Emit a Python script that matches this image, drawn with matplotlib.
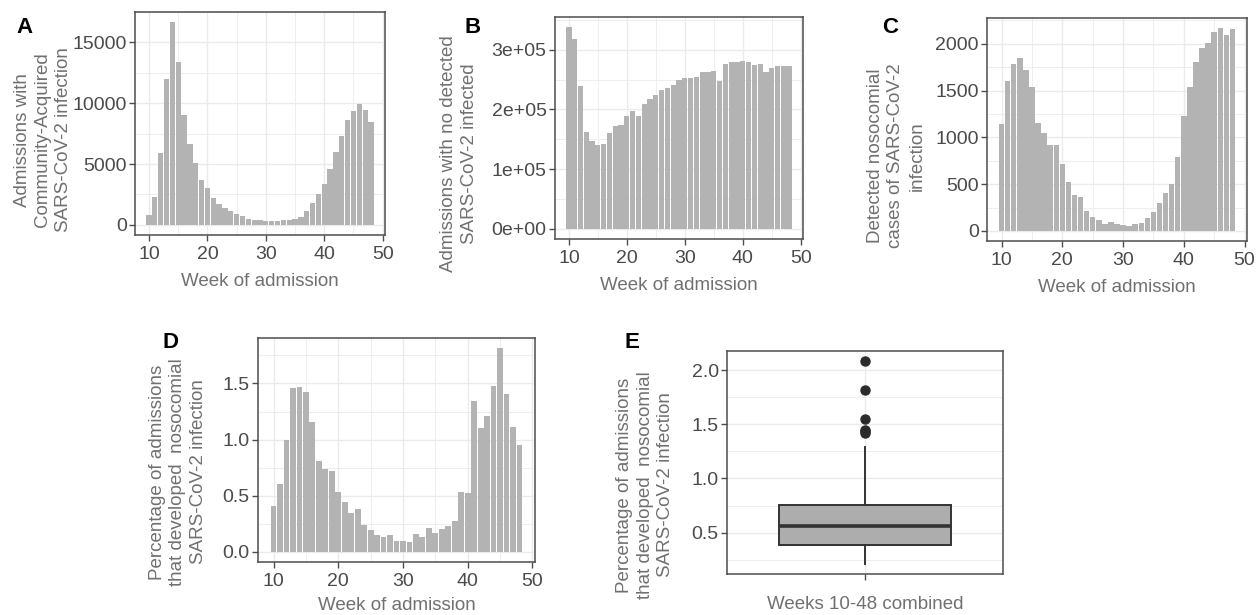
import numpy as np
import matplotlib
matplotlib.use("Agg")
import matplotlib.pyplot as plt
from matplotlib.ticker import MultipleLocator, FixedLocator, FuncFormatter

plt.rcParams['font.family'] = ['Liberation Sans', 'DejaVu Sans']

# ---------------- data ----------------
weeks = np.arange(10, 49)

community_acquired = [820, 2320, 5870, 12000, 16670, 13360, 9020, 6690, 5050, 3690,
                      3060, 2190, 1720, 1370, 1170, 900, 740, 520, 410, 390,
                      330, 300, 330, 380, 410, 460, 660, 1150, 1780, 2510,
                      3330, 4590, 5960, 7300, 8660, 9340, 9950, 9430, 8420]

no_detected = [3.38e5, 3.18e5, 2.39e5, 1.62e5, 1.47e5, 1.41e5, 1.43e5, 1.61e5, 1.72e5, 1.74e5,
               1.89e5, 1.98e5, 1.89e5, 2.09e5, 2.17e5, 2.24e5, 2.33e5, 2.36e5, 2.41e5, 2.49e5,
               2.53e5, 2.53e5, 2.54e5, 2.62e5, 2.63e5, 2.64e5, 2.47e5, 2.77e5, 2.79e5, 2.79e5,
               2.81e5, 2.79e5, 2.74e5, 2.76e5, 2.63e5, 2.69e5, 2.72e5, 2.72e5, 2.72e5]

nosocomial_cases = [1143, 1604, 1786, 1846, 1725, 1539, 1157, 1050, 914, 914,
                    714, 521, 386, 364, 214, 150, 121, 79, 100, 71,
                    61, 50, 79, 86, 143, 200, 296, 404, 504, 789,
                    1232, 1536, 1804, 1954, 2011, 2125, 2168, 2093, 2157]

nosocomial_pct = [0.41, 0.60, 0.996, 1.458, 1.464, 1.42, 1.156, 0.806, 0.741, 0.717,
                  0.536, 0.44, 0.35, 0.38, 0.24, 0.19, 0.15, 0.13, 0.15, 0.095,
                  0.10, 0.086, 0.16, 0.136, 0.216, 0.163, 0.20, 0.228, 0.27, 0.53,
                  0.52, 1.343, 1.10, 1.21, 1.473, 1.814, 1.402, 1.114, 0.951]

# panel E box statistics
box_label = "Weeks 10-48 combined"
box_q1 = 0.386
box_median = 0.562
box_q3 = 0.754
box_whislo = 0.212
box_whishi = 1.295
box_outliers = [1.42, 1.44, 1.45, 1.552, 1.82, 2.083]

b_tick_values = [0, 1e5, 2e5, 3e5]
b_tick_labels = ["0e+00", "1e+05", "2e+05", "3e+05"]

# ---------------- style ----------------
W, H = 1257, 615
fig = plt.figure(figsize=(W / 100, H / 100), dpi=100)

TICK_C = '#4a4a4a'
TITLE_C = '#707070'
BORDER_C = '#4d4d4d'
GRID_C = '#ebebeb'
BAR_C = '#b3b3b3'
FS_TICK = 14
FS_TITLE = 13.5


def add_ax(l, r, t, b):
    return fig.add_axes([l / W, 1 - b / H, (r - l) / W, (b - t) / H])


def style(ax):
    ax.set_facecolor('white')
    for s in ax.spines.values():
        s.set_color(BORDER_C)
        s.set_linewidth(1.1)
    ax.grid(True, which='major', color=GRID_C, linewidth=1.0, zorder=0)
    ax.grid(True, which='minor', color=GRID_C, linewidth=0.6, zorder=0)
    ax.set_axisbelow(True)
    ax.tick_params(which='major', length=4, width=1.0, color=BORDER_C,
                   labelsize=FS_TICK, labelcolor=TICK_C, pad=2)
    ax.tick_params(axis='x', which='major', pad=4)
    ax.tick_params(which='minor', length=0)


def bar_panel(ax, values, ylim, ymaj, ymin):
    ax.bar(weeks, values, width=0.9, color=BAR_C, edgecolor='none', zorder=2)
    ax.set_xlim(7.6, 50.4)
    ax.set_ylim(*ylim)
    ax.xaxis.set_major_locator(FixedLocator([10, 20, 30, 40, 50]))
    ax.xaxis.set_minor_locator(FixedLocator([15, 25, 35, 45]))
    ax.yaxis.set_major_locator(MultipleLocator(ymaj))
    ax.yaxis.set_minor_locator(MultipleLocator(ymin))
    style(ax)
    ax.set_xlabel("Week of admission", fontsize=FS_TITLE, color=TITLE_C, labelpad=7)


def ylab(x, y, text):
    fig.text(x / W, 1 - y / H, text, rotation=90, ha='center', va='center',
             multialignment='center', fontsize=FS_TITLE, color=TITLE_C, linespacing=1.3)


def panel_letter(x, y, s):
    fig.text(x / W, 1 - y / H, s, fontsize=16, fontweight='bold', color='black',
             ha='left', va='baseline')


# A
axA = add_ax(135, 385, 12, 235)
bar_panel(axA, community_acquired, (-833, 17503), 5000, 2500)
ylab(43, 140, "Admissions with\nCommunity-Acquired\nSARS-CoV-2 infection")
panel_letter(16, 33, "A")

# B
axB = add_ax(555, 803, 17, 239)
bar_panel(axB, no_detected, (-16900, 3.549e5), 1e5, 5e4)
axB.yaxis.set_major_locator(FixedLocator(b_tick_values))
axB.yaxis.set_major_formatter(FuncFormatter(
    lambda v, p: b_tick_labels[b_tick_values.index(v)] if v in b_tick_values else ""))
ylab(459, 154, "Admissions with no detected\nSARS-CoV-2 infected")
panel_letter(464, 33, "B")

# C
axC = add_ax(987, 1247, 18, 241)
bar_panel(axC, nosocomial_cases, (-108, 2276), 500, 250)
ylab(896, 156, "Detected nosocomial\ncases of SARS-CoV-2\ninfection")
panel_letter(882, 33, "C")

# D
axD = add_ax(258, 535, 338, 562)
bar_panel(axD, nosocomial_pct, (-0.091, 1.905), 0.5, 0.25)
axD.yaxis.set_major_formatter(FuncFormatter(lambda v, p: f"{v:.1f}"))
axD.xaxis.labelpad = 5
ylab(178, 472, "Percentage of admissions\nthat developed  nosocomial\nSARS-CoV-2 infection")
panel_letter(162, 348, "D")

# E
axE = add_ax(727, 1003, 351, 574)
stats = [dict(med=box_median, q1=box_q1, q3=box_q3, whislo=box_whislo,
              whishi=box_whishi, fliers=box_outliers, label=box_label)]
axE.bxp(stats, positions=[1], widths=0.75, patch_artist=True,
        boxprops=dict(facecolor='#adadad', edgecolor='#333333', linewidth=1.4),
        medianprops=dict(color='#333333', linewidth=2.6),
        whiskerprops=dict(color='#333333', linewidth=1.4),
        capprops=dict(linewidth=0),
        flierprops=dict(marker='o', markerfacecolor='#2b2b2b', markeredgecolor='#2b2b2b',
                        markersize=6.5),
        zorder=3)
axE.set_xlim(0.4, 1.6)
axE.set_ylim(0.118, 2.177)
axE.xaxis.set_major_locator(FixedLocator([1]))
axE.set_xticklabels([box_label])
axE.yaxis.set_major_locator(MultipleLocator(0.5))
axE.yaxis.set_minor_locator(MultipleLocator(0.25))
axE.yaxis.set_major_formatter(FuncFormatter(lambda v, p: f"{v:.1f}"))
style(axE)
axE.tick_params(axis='x', which='major', labelcolor=TITLE_C, labelsize=FS_TITLE, pad=12)
axE.xaxis.grid(True, which='major', color=GRID_C, linewidth=1.0)
ylab(645, 485, "Percentage of admissions\nthat developed  nosocomial\nSARS-CoV-2 infection")
panel_letter(624, 348, "E")

fig.savefig("out.png", dpi=100, facecolor='white')
